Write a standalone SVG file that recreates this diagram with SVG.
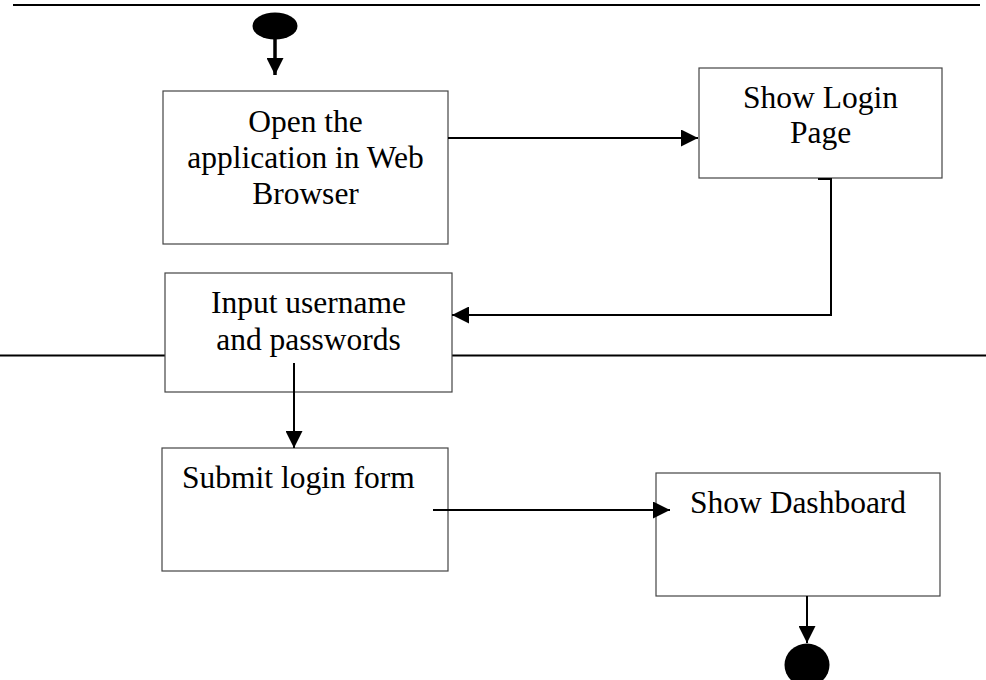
<svg xmlns="http://www.w3.org/2000/svg" width="986" height="680" viewBox="0 0 986 680">
<style>
.lane{stroke:#000;stroke-width:2.2;fill:none}
.box{fill:#fff;stroke:#444;stroke-width:1.2}
.lbl{font-family:"Liberation Serif","Times New Roman",serif;font-size:31.5px;fill:#000}
.c{text-anchor:middle}
.conn{stroke:#000;stroke-width:2;fill:none}
.thick{stroke-width:3.5}
.dot{fill:#000}
</style>
<defs>
<marker id="ahb" viewBox="0 0 10 10" refX="10" refY="5" markerWidth="17" markerHeight="17" markerUnits="userSpaceOnUse" orient="auto">
<path d="M0,0 L10,5 L0,10 z" fill="#000"/>
</marker>
</defs>
<g id="lanes">
<line class="lane" x1="13" y1="5" x2="980" y2="5"/>
<line class="lane" x1="0" y1="355.5" x2="986" y2="355.5"/>
</g>
<g id="start">
<ellipse class="dot" cx="275" cy="26" rx="22.5" ry="13.5"/>
</g>
<g id="n1">
<rect class="box" x="163" y="91" width="285" height="153"/>
<text class="lbl c" x="305.5" y="132">Open the</text>
<text class="lbl c" x="305.5" y="168">application in Web</text>
<text class="lbl c" x="305.5" y="204">Browser</text>
</g>
<g id="n2">
<rect class="box" x="699" y="68" width="243" height="110"/>
<text class="lbl c" x="820.5" y="108">Show Login</text>
<text class="lbl c" x="820.5" y="143">Page</text>
</g>
<g id="n3">
<rect class="box" x="165" y="273" width="287" height="119"/>
<text class="lbl c" x="308.5" y="313">Input username</text>
<text class="lbl c" x="308.5" y="350">and passwords</text>
</g>
<g id="n4">
<rect class="box" x="162" y="448" width="286" height="123"/>
<text class="lbl" x="182" y="488">Submit login form</text>
</g>
<g id="n5">
<rect class="box" x="656" y="473" width="284" height="123"/>
<text class="lbl" x="690" y="513">Show Dashboard</text>
</g>
<g id="end">
<ellipse class="dot" cx="807" cy="665" rx="22.5" ry="21.5"/>
</g>
<g id="connectors">
<path class="conn thick" d="M275,39 V75" marker-end="url(#ahb)"/>
<path class="conn" d="M448,138 H698" marker-end="url(#ahb)"/>
<path class="conn" d="M818,179 H831 V315 H452" marker-end="url(#ahb)"/>
<path class="conn" d="M294,363 V448" marker-end="url(#ahb)"/>
<path class="conn" d="M433,510 H670" marker-end="url(#ahb)"/>
<path class="conn" d="M807,596 V643" marker-end="url(#ahb)"/>
</g>
</svg>
